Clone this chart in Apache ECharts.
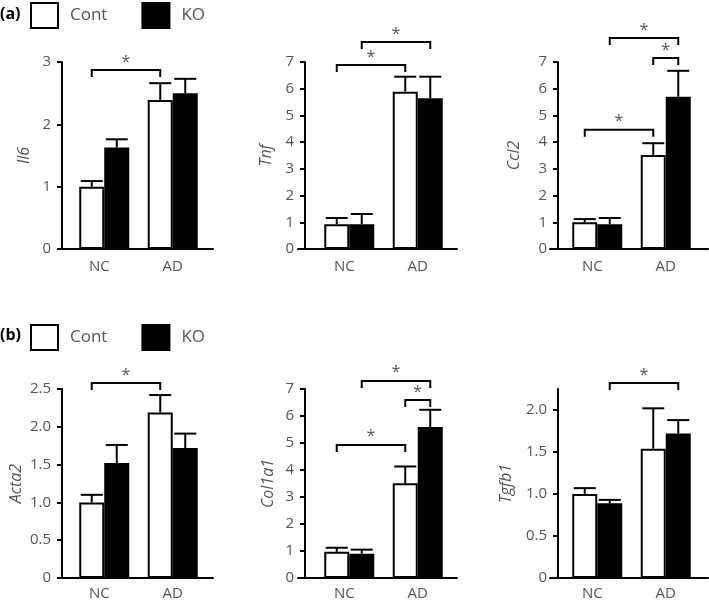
<!doctype html>
<html lang="en">
<head>
<meta charset="utf-8">
<title>Cont vs KO expression</title>
<script src="https://cdn.jsdelivr.net/npm/echarts@6/dist/echarts.min.js"></script>
<style>
  html, body { margin: 0; padding: 0; background: #fff; }
  #chartmain { width: 709px; height: 604px; }
</style>
</head>
<body>
<div id="chartmain"></div>
<script>
// data
var panelNames = ['Il6', 'Tnf', 'Ccl2', 'Acta2', 'Col1a1', 'Tgfb1'];
var categories = ['NC', 'AD'];
var seriesNames = ['Cont', 'KO'];

var contMean = [[1.0, 2.39], [0.93, 5.89], [1.0, 3.52], [1.0, 2.19], [0.97, 3.51], [1.0, 1.54]];
var contErr  = [[0.09, 0.27], [0.23, 0.56], [0.12, 0.44], [0.10, 0.23], [0.15, 0.62], [0.07, 0.48]];
var koMean   = [[1.63, 2.50], [0.93, 5.64], [0.93, 5.70], [1.52, 1.72], [0.90, 5.59], [0.89, 1.72]];
var koErr    = [[0.13, 0.23], [0.38, 0.81], [0.23, 0.97], [0.24, 0.19], [0.15, 0.64], [0.04, 0.16]];

var yMax = [3, 7, 7, 2.5, 7, 2.25];
var yTicks = [
  [0, 1, 2, 3],
  [0, 1, 2, 3, 4, 5, 6, 7],
  [0, 1, 2, 3, 4, 5, 6, 7],
  [0, 0.5, 1, 1.5, 2, 2.5],
  [0, 1, 2, 3, 4, 5, 6, 7],
  [0, 0.5, 1, 1.5, 2]
];

// significance brackets: [fromCat, level, fromSeries, toCat, toSeries]
var brackets = [
  [[0, 2.87, 0, 1, 0]],
  [[0, 6.89, 0, 1, 0], [0, 7.75, 1, 1, 1]],
  [[0, 4.46, 0, 1, 0], [1, 7.15, 0, 1, 1], [0, 7.9, 1, 1, 1]],
  [[0, 2.58, 0, 1, 0]],
  [[0, 4.93, 0, 1, 0], [1, 6.59, 0, 1, 1], [0, 7.3, 1, 1, 1]],
  [[0, 2.32, 1, 1, 1]]
];

// layout
var FONT = '"Open Sans", "DejaVu Sans", sans-serif';
var TXT = '#555';
var colLeft = [70, 315, 563];
var colOffset = [8, 10, 5];
var frameLeft = [58, 298, 550];
var frameRight = [213, 457, 708];
var rowTop = [62, 389];
var rowHeight = [187, 189];
var nameGaps = [30, 31, 36, 38, 29, 44];
var BAR_W = 25;
var barOff = [-BAR_W / 2, BAR_W / 2];

function fmtTick(v, panel) {
  if (v === 0) return '0';
  return (panel >= 3 && panel !== 4) ? v.toFixed(1) : String(v);
}

function errRender(offset) {
  return function (params, api) {
    var c = api.value(0), m = api.value(1), e = api.value(2);
    var p0 = api.coord([c, m]);
    var p1 = api.coord([c, m + e]);
    var x = p0[0] + offset;
    var st = { stroke: '#000', lineWidth: 2 };
    return {
      type: 'group',
      children: [
        { type: 'line', shape: { x1: x, y1: p0[1], x2: x, y2: p1[1] }, style: st },
        { type: 'line', shape: { x1: x - 11, y1: p1[1], x2: x + 11, y2: p1[1] }, style: st }
      ]
    };
  };
}

function bracketRender(params, api) {
  var lvl = api.value(1);
  var a = api.coord([api.value(0), lvl]);
  var b = api.coord([api.value(3), lvl]);
  var x1 = a[0] + barOff[api.value(2)];
  var x2 = b[0] + barOff[api.value(4)];
  var y = a[1];
  return {
    type: 'group',
    children: [
      { type: 'polyline', shape: { points: [[x1, y + 7], [x1, y], [x2, y], [x2, y + 7]] },
        style: { stroke: '#000', lineWidth: 2, fill: null } },
      { type: 'text', x: (x1 + x2) / 2, y: y,
        style: { text: '*', textAlign: 'center', textVerticalAlign: 'bottom',
                 font: '16px ' + FONT, fill: TXT } }
    ]
  };
}

var grids = [], xAxes = [], yAxes = [], series = [];

for (var i = 0; i < 6; i++) {
  var col = i % 3, row = Math.floor(i / 3);
  grids.push({ left: colLeft[col], top: rowTop[row], width: 137, height: rowHeight[row] });
  xAxes.push({
    type: 'category', gridIndex: i, data: categories,
    axisLine: { show: false }, axisTick: { show: false },
    axisLabel: { interval: 0, hideOverlap: false, margin: row === 0 ? 10 : 8,
                 fontSize: 15, fontFamily: FONT, color: TXT,
                 formatter: function (v) { return v === 'NC' ? '{nc|' + v + '}' : v; },
                 rich: { nc: { fontSize: 15, fontFamily: FONT, color: TXT, padding: [0, 10, 0, 0] } } }
  });
  (function (p) {
    yAxes.push({
      type: 'value', gridIndex: p, min: 0, max: yMax[p], offset: colOffset[p % 3],
      name: panelNames[p], nameLocation: 'middle', nameRotate: 90, nameGap: nameGaps[p],
      nameTextStyle: { fontStyle: 'italic', fontSize: 16, fontFamily: FONT, color: TXT },
      splitLine: { show: false },
      axisLine: { show: true, lineStyle: { color: '#000', width: 2 } },
      axisTick: { show: true, length: 5, customValues: yTicks[p], lineStyle: { color: '#000', width: 2 } },
      axisLabel: { margin: 11, fontSize: 15, fontFamily: FONT, color: TXT, customValues: yTicks[p],
                   formatter: function (v) { return fmtTick(v, p); } }
    });
  })(i);

  var means = [contMean[i], koMean[i]];
  var errs = [contErr[i], koErr[i]];
  for (var s = 0; s < 2; s++) {
    series.push({
      name: seriesNames[s], type: 'bar', xAxisIndex: i, yAxisIndex: i,
      barWidth: BAR_W, barGap: '0%', data: means[s],
      itemStyle: { color: s === 0 ? '#fff' : '#000', borderColor: '#000', borderWidth: 2 },
      emphasis: { disabled: true }, animation: false
    });
    series.push({
      type: 'custom', xAxisIndex: i, yAxisIndex: i, clip: false, z: 3,
      renderItem: errRender(barOff[s]),
      data: categories.map(function (c, k) { return [c, means[s][k], errs[s][k]]; }),
      animation: false, silent: true
    });
  }
  series.push({
    type: 'custom', xAxisIndex: i, yAxisIndex: i, clip: false, z: 4,
    renderItem: bracketRender, data: brackets[i], animation: false, silent: true
  });
}

// frame grids carrying the longer baseline of each panel
for (var j = 0; j < 6; j++) {
  var c2 = j % 3, r2 = Math.floor(j / 3);
  grids.push({ left: frameLeft[c2], top: rowTop[r2], width: frameRight[c2] - frameLeft[c2], height: rowHeight[r2] });
  xAxes.push({
    type: 'value', gridIndex: 6 + j, min: 0, max: 1,
    axisLine: { show: true, lineStyle: { color: '#000', width: 2 } },
    axisTick: { show: false }, axisLabel: { show: false }, splitLine: { show: false }
  });
  yAxes.push({ type: 'value', gridIndex: 6 + j, min: 0, max: 1, show: false });
}

var legendBase = {
  data: seriesNames, icon: 'rect', itemWidth: 27, itemHeight: 25, itemGap: 34,
  left: 30, padding: 0, selectedMode: false,
  textStyle: { fontSize: 17, fontFamily: FONT, color: TXT, padding: [0, 0, 0, 7] }
};

var option = {
  backgroundColor: '#fff',
  animation: false,
  title: [
    { text: '(a)', left: 0, top: 6, padding: 0, textStyle: { fontSize: 16, fontWeight: 'bold', fontFamily: FONT, color: '#000' } },
    { text: '(b)', left: 0, top: 327, padding: 0, textStyle: { fontSize: 16, fontWeight: 'bold', fontFamily: FONT, color: '#000' } }
  ],
  legend: [
    Object.assign({}, legendBase, { top: 2 }),
    Object.assign({}, legendBase, { top: 324 })
  ],
  grid: grids,
  xAxis: xAxes,
  yAxis: yAxes,
  series: series
};

var myChart = echarts.init(document.getElementById('chartmain'));
myChart.setOption(option);
</script>
</body>
</html>
